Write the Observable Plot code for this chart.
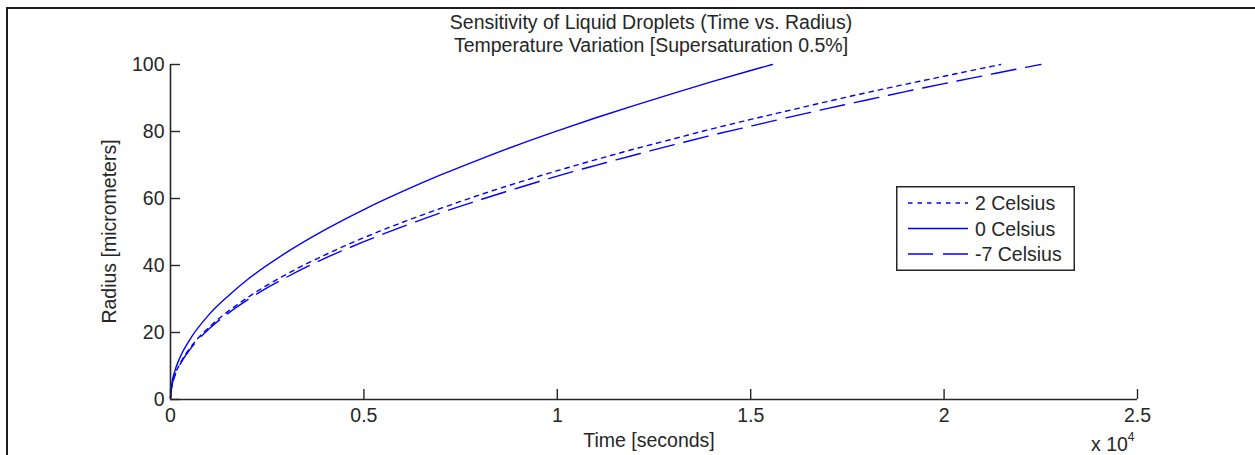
<!DOCTYPE html>
<html>
<head>
<meta charset="utf-8">
<script src="https://cdn.jsdelivr.net/npm/d3@7"></script>
<script src="https://cdn.jsdelivr.net/npm/@observablehq/plot@0.6"></script>
<style>
  body { margin: 0; background: #fff; font-family: "Liberation Sans", Arial, sans-serif; }
  #wrap { position: relative; width: 1255px; height: 455px; overflow: hidden; background: #fff; }
  #frame { position: absolute; left: 6px; top: 7px; width: 1400px; height: 600px; border: 2px solid #1e1e1e; box-sizing: border-box; }
  .t { position: absolute; font-size: 19.5px; line-height: 23px; color: #262626; white-space: nowrap; }
  #title { top: 11px; left: 0; width: 1302px; text-align: center; }
  #xlabel { top: 429px; left: 449px; width: 400px; text-align: center; }
  #ylabel { top: 220px; left: -41px; width: 300px; text-align: center; transform: rotate(-90deg); transform-origin: 150px 11.5px; }
  #mult { top: 429px; left: 1091px; line-height: 21px; }
  #mult sup { font-size: 12px; position: relative; top: -2px; }
  #chart { position: absolute; left: 0; top: 55px; }
  #legend { position: absolute; left: 896px; top: 186px; }
</style>
</head>
<body>
<div id="wrap">
  <div id="frame"></div>
  <div id="title" class="t"></div>
  <div id="chart"></div>
  <div id="xlabel" class="t"></div>
  <div id="ylabel" class="t"></div>
  <div id="mult" class="t">x 10<sup>4</sup></div>
  <div id="legend"></div>
</div>
<script>
// ---- Text ----
const titleLines = ["Sensitivity of Liquid Droplets (Time vs. Radius)", "Temperature Variation [Supersaturation 0.5%]"];
const xLabel = "Time [seconds]";
const yLabel = "Radius [micrometers]";

// ---- Ticks ----
const xTicks = [0, 5000, 10000, 15000, 20000, 25000];
const xTickLabels = ["0", "0.5", "1", "1.5", "2", "2.5"];
const yTicks = [0, 20, 40, 60, 80, 100];

// ---- Series names (legend order) ----
const seriesNames = ["2 Celsius", "0 Celsius", "-7 Celsius"];

// ---- 2 Celsius ----
const time2C = [0, 30, 100, 250, 500, 1000, 1500, 2000, 3000, 4000, 5000, 6000, 7000, 8000, 9000, 10000, 11000, 12000, 13000, 14000, 15000, 16000, 17000, 18000, 19000, 20000, 21000, 21460];
const radius2C = [0.5, 3.7, 6.8, 10.8, 15.3, 21.6, 26.4, 30.5, 37.4, 43.2, 48.3, 52.9, 57.1, 61.1, 64.8, 68.3, 71.6, 74.8, 77.8, 80.8, 83.6, 86.3, 89.0, 91.6, 94.1, 96.5, 98.9, 100];

// ---- 0 Celsius ----
const time0C = [0, 30, 100, 250, 500, 1000, 1500, 2000, 3000, 4000, 5000, 6000, 7000, 8000, 9000, 10000, 11000, 12000, 13000, 14000, 15000, 15560];
const radius0C = [0.5, 4.4, 8.0, 12.7, 17.9, 25.4, 31.0, 35.9, 43.9, 50.7, 56.7, 62.1, 67.1, 71.7, 76.1, 80.2, 84.1, 87.8, 91.4, 94.9, 98.2, 100];

// ---- -7 Celsius ----
const timeM7C = [0, 30, 100, 250, 500, 1000, 1500, 2000, 3000, 4000, 5000, 6000, 7000, 8000, 9000, 10000, 11000, 12000, 13000, 14000, 15000, 16000, 17000, 18000, 19000, 20000, 21000, 22000, 22500];
const radiusM7C = [0.5, 3.65, 6.7, 10.5, 14.9, 21.1, 25.8, 29.8, 36.5, 42.2, 47.1, 51.6, 55.8, 59.6, 63.2, 66.7, 69.9, 73.0, 76.0, 78.9, 81.6, 84.3, 86.9, 89.4, 91.9, 94.3, 96.6, 98.9, 100];

// ---- Styles ----
const lineColor = "#0000ff";
const dashes = ["4.5,5", null, "25,10"];

const toRows = (ts, rs) => ts.map((t, i) => ({t, r: rs[i]}));
const seriesData = [toRows(time2C, radius2C), toRows(time0C, radius0C), toRows(timeM7C, radiusM7C)];

document.getElementById("title").innerHTML = titleLines.join("<br>");
document.getElementById("xlabel").textContent = xLabel;
document.getElementById("ylabel").textContent = yLabel;

const W = 1255, H = 400;
const mL = 170, mR = 118, mT = 9, mB = 56;
const plotW = W - mL - mR, plotH = H - mT - mB;
const axisColor = "#262626";

const chart = Plot.plot({
  width: W, height: H,
  marginLeft: mL, marginRight: mR, marginTop: mT, marginBottom: mB,
  style: { fontFamily: '"Liberation Sans", Arial, sans-serif', fontSize: "19.5px", color: axisColor, background: "transparent", overflow: "visible" },
  x: { domain: [0, 25000] },
  y: { domain: [0, 100] },
  marks: [
    ...seriesData.map((d, i) => Plot.line(d, {
      x: "t", y: "r", stroke: lineColor, strokeWidth: 1.4, curve: "monotone-x",
      strokeDasharray: dashes[i] ?? undefined
    })),
    Plot.ruleY([0], { stroke: axisColor, strokeWidth: 1.6 }),
    Plot.ruleX([0], { stroke: axisColor, strokeWidth: 1.6 }),
    Plot.tickX(xTicks, { x: d => d, stroke: axisColor, strokeWidth: 1.4, insetTop: plotH - 10 }),
    Plot.tickY(yTicks, { y: d => d, stroke: axisColor, strokeWidth: 1.4, insetRight: plotW - 10 }),
    Plot.axisX({ ticks: xTicks, tickSize: 0, tickPadding: 9, tickFormat: (d) => xTickLabels[xTicks.indexOf(d)], label: null, fill: axisColor }),
    Plot.axisY({ ticks: yTicks, tickSize: 0, tickPadding: 6, label: null, fill: axisColor })
  ]
});
document.getElementById("chart").appendChild(chart);

// ---- Legend ----
const lg = d3.select("#legend").append("svg").attr("width", 180).attr("height", 86)
  .style("font-family", '"Liberation Sans", Arial, sans-serif').style("font-size", "19.5px");
lg.append("rect").attr("x", 0.75).attr("y", 0.75).attr("width", 177.5).attr("height", 83.5)
  .attr("fill", "#fff").attr("stroke", axisColor).attr("stroke-width", 1.5);
seriesNames.forEach((name, i) => {
  const cy = 17 + i * 25.5;
  lg.append("line").attr("x1", 12).attr("x2", 72).attr("y1", cy).attr("y2", cy)
    .attr("stroke", lineColor).attr("stroke-width", 1.4)
    .attr("stroke-dasharray", dashes[i] ?? null);
  lg.append("text").attr("x", 79).attr("y", cy + 7).attr("fill", axisColor).text(name);
});
</script>
</body>
</html>
